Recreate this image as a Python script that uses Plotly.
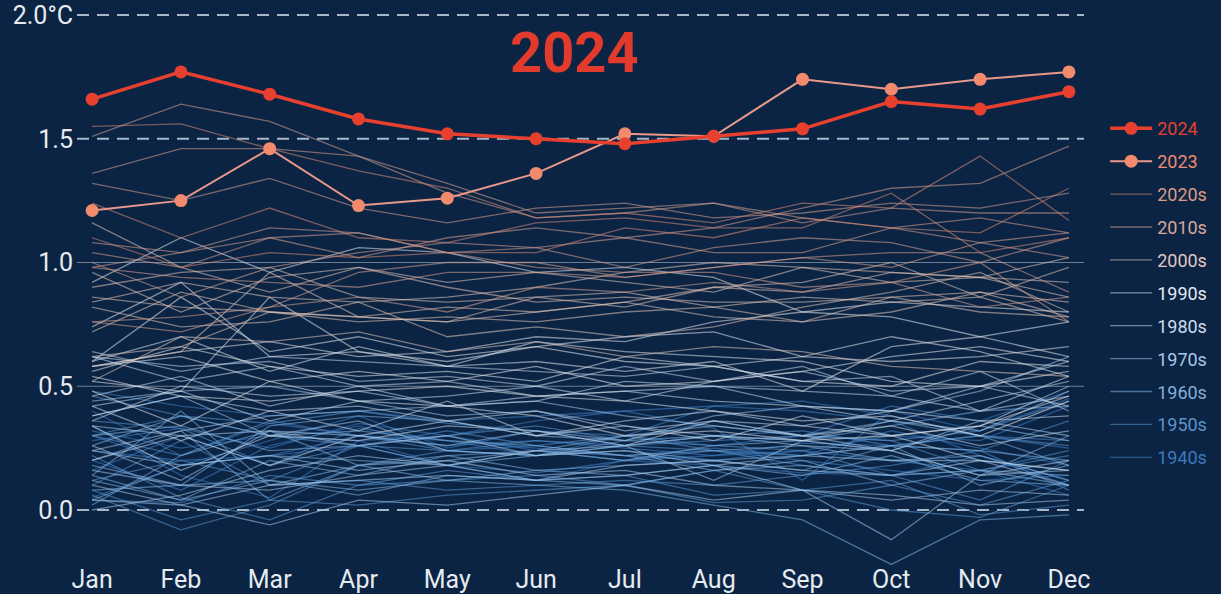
import plotly.graph_objects as go

months = ["Jan", "Feb", "Mar", "Apr", "May", "Jun", "Jul", "Aug", "Sep", "Oct", "Nov", "Dec"]

y2024 = [1.66, 1.77, 1.68, 1.58, 1.52, 1.50, 1.48, 1.51, 1.54, 1.65, 1.62, 1.69]
y2023 = [1.21, 1.25, 1.46, 1.23, 1.26, 1.36, 1.52, 1.51, 1.74, 1.70, 1.74, 1.77]

d1940s = [
    [0.05, 0.18, 0.22, 0.30, 0.28, 0.25, 0.22, 0.20, 0.24, 0.30, 0.28, 0.42],
    [0.28, 0.33, 0.25, 0.35, 0.30, 0.36, 0.40, 0.33, 0.12, 0.40, 0.32, 0.45],
    [0.40, 0.22, 0.35, 0.30, 0.26, 0.28, 0.25, 0.22, 0.27, 0.26, 0.30, 0.28],
    [0.16, 0.30, 0.18, 0.33, 0.28, 0.22, 0.30, 0.26, 0.30, 0.42, 0.36, 0.48],
    [0.48, 0.42, 0.38, 0.40, 0.36, 0.38, 0.40, 0.42, 0.44, 0.38, 0.30, 0.25],
    [0.30, 0.18, 0.28, 0.38, 0.25, 0.32, 0.30, 0.42, 0.40, 0.36, 0.22, 0.10],
    [0.32, 0.25, 0.30, 0.28, 0.18, 0.12, 0.20, 0.18, 0.15, 0.14, 0.22, 0.12],
    [0.20, 0.08, 0.26, 0.34, 0.24, 0.26, 0.22, 0.25, 0.22, 0.32, 0.25, 0.18],
    [0.34, 0.14, 0.05, 0.28, 0.30, 0.24, 0.20, 0.22, 0.24, 0.20, 0.16, 0.06],
    [0.24, 0.20, 0.22, 0.26, 0.18, 0.15, 0.20, 0.24, 0.20, 0.16, 0.12, 0.14],
]
d1950s = [
    [0.04, 0.03, 0.14, 0.10, 0.16, 0.12, 0.14, 0.06, 0.08, 0.00, -0.03, 0.10],
    [0.06, -0.08, 0.02, 0.18, 0.24, 0.22, 0.26, 0.30, 0.32, 0.26, 0.24, 0.36],
    [0.36, 0.33, 0.18, 0.26, 0.24, 0.22, 0.28, 0.26, 0.24, 0.14, 0.04, 0.20],
    [0.30, 0.38, 0.35, 0.40, 0.35, 0.32, 0.26, 0.28, 0.30, 0.28, 0.16, 0.24],
    [0.10, 0.28, 0.10, 0.12, 0.08, 0.10, 0.12, 0.10, 0.14, 0.18, 0.24, 0.08],
    [0.22, 0.05, -0.04, 0.10, 0.12, 0.14, 0.10, 0.16, 0.08, 0.12, -0.02, 0.02],
    [0.08, -0.04, 0.04, 0.02, 0.06, 0.08, 0.10, 0.03, 0.04, 0.10, 0.02, 0.12],
    [0.12, 0.20, 0.12, 0.26, 0.30, 0.34, 0.28, 0.36, 0.30, 0.28, 0.32, 0.44],
    [0.46, 0.38, 0.30, 0.26, 0.32, 0.26, 0.30, 0.24, 0.22, 0.26, 0.30, 0.26],
    [0.30, 0.22, 0.36, 0.30, 0.24, 0.28, 0.26, 0.24, 0.18, 0.14, 0.16, 0.22],
]
d1960s = [
    [0.20, 0.32, 0.04, 0.18, 0.22, 0.24, 0.20, 0.26, 0.28, 0.24, 0.14, 0.30],
    [0.26, 0.38, 0.30, 0.32, 0.28, 0.26, 0.22, 0.24, 0.26, 0.20, 0.22, 0.12],
    [0.30, 0.34, 0.24, 0.26, 0.18, 0.22, 0.24, 0.20, 0.22, 0.26, 0.24, 0.20],
    [0.14, 0.40, 0.10, 0.18, 0.20, 0.24, 0.30, 0.34, 0.30, 0.36, 0.30, 0.18],
    [0.18, 0.10, 0.12, 0.08, 0.12, 0.10, 0.08, 0.02, -0.04, -0.22, -0.04, -0.02],
    [0.14, 0.04, 0.12, 0.06, 0.14, 0.12, 0.10, 0.16, 0.18, 0.14, 0.16, 0.10],
    [0.04, 0.18, 0.22, 0.20, 0.18, 0.24, 0.22, 0.16, 0.20, 0.10, 0.16, 0.14],
    [0.12, 0.04, 0.20, 0.14, 0.22, 0.16, 0.18, 0.20, 0.16, 0.26, 0.10, 0.18],
    [0.02, 0.22, 0.32, 0.18, 0.12, 0.16, 0.14, 0.18, 0.14, 0.22, 0.12, 0.10],
    [0.08, 0.10, 0.34, 0.38, 0.36, 0.30, 0.28, 0.30, 0.28, 0.34, 0.40, 0.42],
]
d1970s = [
    [0.38, 0.46, 0.30, 0.36, 0.24, 0.22, 0.24, 0.18, 0.22, 0.20, 0.20, 0.10],
    [0.16, 0.10, 0.08, 0.14, 0.18, 0.12, 0.18, 0.20, 0.16, 0.14, 0.20, 0.16],
    [0.00, 0.06, 0.16, 0.22, 0.18, 0.24, 0.26, 0.30, 0.28, 0.36, 0.32, 0.48],
    [0.44, 0.48, 0.50, 0.44, 0.38, 0.40, 0.34, 0.30, 0.26, 0.24, 0.14, 0.16],
    [0.04, 0.02, 0.10, 0.12, 0.14, 0.12, 0.14, 0.18, 0.08, 0.04, 0.08, 0.06],
    [0.24, 0.18, 0.22, 0.16, 0.20, 0.14, 0.16, 0.10, 0.08, 0.06, 0.02, 0.04],
    [0.10, 0.02, -0.06, 0.04, 0.02, 0.06, 0.10, 0.04, 0.08, -0.12, 0.14, 0.20],
    [0.24, 0.32, 0.38, 0.40, 0.42, 0.44, 0.38, 0.34, 0.30, 0.24, 0.36, 0.30],
    [0.34, 0.30, 0.32, 0.26, 0.30, 0.22, 0.26, 0.12, 0.28, 0.24, 0.34, 0.28],
    [0.26, 0.12, 0.32, 0.30, 0.26, 0.32, 0.28, 0.38, 0.42, 0.40, 0.48, 0.62],
]
d1980s = [
    [0.46, 0.54, 0.42, 0.50, 0.52, 0.46, 0.48, 0.44, 0.42, 0.40, 0.50, 0.42],
    [0.62, 0.52, 0.58, 0.50, 0.42, 0.46, 0.48, 0.50, 0.42, 0.36, 0.44, 0.52],
    [0.20, 0.30, 0.18, 0.30, 0.36, 0.30, 0.34, 0.28, 0.38, 0.30, 0.34, 0.50],
    [0.62, 0.58, 0.60, 0.52, 0.54, 0.50, 0.44, 0.52, 0.58, 0.46, 0.56, 0.40],
    [0.42, 0.28, 0.40, 0.32, 0.44, 0.30, 0.36, 0.40, 0.34, 0.30, 0.20, 0.16],
    [0.34, 0.16, 0.30, 0.28, 0.34, 0.32, 0.26, 0.36, 0.30, 0.34, 0.26, 0.32],
    [0.38, 0.46, 0.40, 0.42, 0.36, 0.40, 0.32, 0.36, 0.34, 0.40, 0.36, 0.38],
    [0.42, 0.48, 0.36, 0.44, 0.46, 0.50, 0.58, 0.52, 0.56, 0.48, 0.50, 0.60],
    [0.64, 0.56, 0.62, 0.60, 0.58, 0.56, 0.54, 0.58, 0.52, 0.54, 0.40, 0.46],
    [0.36, 0.50, 0.46, 0.48, 0.42, 0.44, 0.52, 0.50, 0.48, 0.46, 0.40, 0.54],
]
d1990s = [
    [0.52, 0.48, 0.86, 0.64, 0.58, 0.60, 0.56, 0.60, 0.48, 0.66, 0.70, 0.62],
    [0.60, 0.70, 0.56, 0.66, 0.58, 0.68, 0.64, 0.62, 0.60, 0.52, 0.50, 0.56],
    [0.58, 0.62, 0.52, 0.44, 0.42, 0.38, 0.30, 0.32, 0.28, 0.30, 0.34, 0.46],
    [0.54, 0.46, 0.44, 0.48, 0.50, 0.46, 0.44, 0.40, 0.36, 0.38, 0.30, 0.44],
    [0.48, 0.34, 0.52, 0.56, 0.52, 0.58, 0.50, 0.52, 0.56, 0.62, 0.66, 0.60],
    [0.74, 0.92, 0.62, 0.64, 0.60, 0.66, 0.70, 0.72, 0.62, 0.70, 0.64, 0.54],
    [0.56, 0.66, 0.58, 0.54, 0.56, 0.52, 0.62, 0.58, 0.52, 0.50, 0.60, 0.58],
    [0.58, 0.64, 0.68, 0.62, 0.64, 0.70, 0.68, 0.76, 0.80, 0.84, 0.82, 0.80],
    [0.92, 1.10, 0.96, 1.06, 1.04, 0.96, 0.98, 0.94, 0.80, 0.78, 0.70, 0.76],
    [0.60, 0.86, 0.64, 0.70, 0.62, 0.66, 0.60, 0.58, 0.62, 0.60, 0.62, 0.66],
]
d2000s = [
    [0.52, 0.70, 0.68, 0.72, 0.64, 0.68, 0.62, 0.66, 0.64, 0.58, 0.56, 0.54],
    [0.62, 0.66, 0.80, 0.76, 0.78, 0.76, 0.80, 0.82, 0.76, 0.80, 0.88, 0.84],
    [0.90, 0.96, 0.98, 0.86, 0.84, 0.86, 0.88, 0.82, 0.86, 0.84, 0.86, 0.76],
    [0.86, 0.82, 0.80, 0.78, 0.82, 0.80, 0.84, 0.90, 0.92, 1.00, 0.86, 0.98],
    [0.84, 0.92, 0.86, 0.84, 0.70, 0.74, 0.70, 0.74, 0.82, 0.88, 0.96, 0.80],
    [0.96, 0.80, 0.94, 0.98, 0.92, 0.96, 0.92, 0.88, 0.98, 0.96, 0.94, 0.86],
    [0.72, 0.88, 0.80, 0.78, 0.76, 0.86, 0.82, 0.90, 0.88, 0.96, 0.94, 1.02],
    [1.16, 0.98, 0.88, 0.98, 0.90, 0.84, 0.86, 0.84, 0.84, 0.86, 0.80, 0.78],
    [0.58, 0.64, 0.96, 0.78, 0.76, 0.80, 0.84, 0.78, 0.76, 0.86, 0.88, 0.78],
    [0.82, 0.74, 0.76, 0.84, 0.86, 0.90, 0.96, 1.00, 0.98, 0.92, 0.94, 0.92],
]
d2010s = [
    [0.98, 1.04, 1.14, 1.12, 1.04, 0.98, 0.96, 0.96, 0.90, 0.92, 1.00, 0.76],
    [0.76, 0.72, 0.82, 0.86, 0.80, 0.90, 0.88, 0.92, 0.88, 0.92, 0.82, 0.86],
    [0.76, 0.78, 0.82, 0.96, 1.00, 1.00, 0.94, 0.98, 1.02, 1.04, 1.04, 0.88],
    [0.98, 0.94, 0.92, 0.90, 0.96, 0.96, 0.94, 0.98, 1.02, 0.98, 1.08, 1.02],
    [1.00, 0.86, 0.98, 1.04, 1.08, 1.06, 0.98, 1.06, 1.10, 1.08, 1.00, 1.10],
    [1.08, 1.04, 1.10, 1.02, 1.10, 1.14, 1.10, 1.14, 1.22, 1.30, 1.32, 1.47],
    [1.51, 1.64, 1.57, 1.43, 1.28, 1.18, 1.20, 1.24, 1.18, 1.14, 1.18, 1.12],
    [1.36, 1.46, 1.46, 1.43, 1.32, 1.20, 1.22, 1.24, 1.16, 1.22, 1.20, 1.20],
    [1.04, 0.98, 1.10, 1.12, 1.04, 1.06, 1.10, 1.04, 1.04, 1.14, 1.08, 1.12],
    [1.32, 1.25, 1.34, 1.22, 1.16, 1.22, 1.24, 1.18, 1.20, 1.24, 1.22, 1.28],
]
d2020s = [
    [1.55, 1.56, 1.46, 1.37, 1.30, 1.18, 1.20, 1.16, 1.24, 1.22, 1.43, 1.17],
    [1.10, 0.98, 1.04, 1.02, 1.04, 1.04, 1.14, 1.10, 1.18, 1.14, 1.12, 1.30],
    [1.24, 1.10, 1.22, 1.10, 1.08, 1.16, 1.18, 1.14, 1.14, 1.28, 1.04, 1.10],
]

decades = ["1940s", "1950s", "1960s", "1970s", "1980s", "1990s", "2000s", "2010s", "2020s"]
decade_data = [d1940s, d1950s, d1960s, d1970s, d1980s, d1990s, d2000s, d2010s, d2020s]
line_colors = ["#3f7fc4", "#5b95cf", "#7fb0dd", "#a3c6e8", "#c5d9ee", "#e2e6ec",
               "#e2c4b6", "#d6a090", "#d88a76"]
text_colors = ["#3e79ba", "#5c93c9", "#86aed6", "#a9c7e5", "#cddcec", "#e4e9f0",
               "#e3c8c0", "#d9a79a", "#dc9a86"]

BG = "#0b2444"
FONT = "Roboto"

fig = go.Figure()

for i, (dec, rows) in enumerate(zip(decades, decade_data)):
    for j, row in enumerate(rows):
        fig.add_trace(go.Scatter(
            x=list(range(12)), y=row, mode="lines",
            line=dict(color=line_colors[i], width=1.3),
            opacity=0.55,
            name=f"<span style='color:{text_colors[i]}'>{dec}</span>",
            legendgroup=dec, showlegend=(j == 0),
            legendrank=100 - i * 5,
            hoverinfo="skip",
        ))

fig.add_trace(go.Scatter(
    x=list(range(12)), y=y2023, mode="lines+markers",
    line=dict(color="#e8998a", width=2),
    marker=dict(color="#f28a6e", size=13),
    name="<span style='color:#f08a70'>2023</span>",
    legendgroup="2023", legendrank=2,
))
fig.add_trace(go.Scatter(
    x=list(range(12)), y=y2024, mode="lines+markers",
    line=dict(color="#e8402f", width=3.5),
    marker=dict(color="#e8402f", size=13),
    name="<span style='color:#e8402f'>2024</span>",
    legendgroup="2024", legendrank=1,
))

# reference lines
for v in [0.0, 1.5, 2.0]:
    fig.add_shape(type="line", xref="paper", yref="y", x0=0, x1=1, y0=v, y1=v,
                  line=dict(color="#a9b6c6", width=2, dash="12px,8px"), layer="below")
for v in [0.5, 1.0]:
    fig.add_shape(type="line", xref="paper", yref="y", x0=0, x1=1, y0=v, y1=v,
                  line=dict(color="rgba(190,200,215,0.55)", width=1.2), layer="below")

fig.add_annotation(text="<b>2024</b>", x=0.494, y=0.9227, xref="paper", yref="paper",
                   xanchor="center", yanchor="middle", showarrow=False,
                   font=dict(family=FONT, size=56, color="#e23a2c"))

fig.update_layout(
    width=1221, height=594,
    margin=dict(l=77, r=136, t=10, b=28),
    paper_bgcolor=BG, plot_bgcolor=BG,
    font=dict(family=FONT, color="#e6ebf0"),
    showlegend=True,
    legend=dict(x=1.02, y=0.82, xanchor="left", yanchor="top",
                font=dict(family=FONT, size=18), tracegroupgap=6.5,
                itemwidth=42,
                traceorder="grouped", bgcolor="rgba(0,0,0,0)"),
    xaxis=dict(range=[-0.17, 11.17], tickvals=list(range(12)), ticktext=months,
               showgrid=False, zeroline=False, showline=False, ticklabelstandoff=-4,
               tickfont=dict(family=FONT, size=25, color="#e6ebf0"), automargin=False),
    yaxis=dict(range=[-0.2263, 2.0202], tickvals=[0, 0.5, 1.0, 1.5, 2.0],
               ticktext=["0.0", "0.5", "1.0", "1.5", "2.0°C"],
               showgrid=False, zeroline=False, showline=False, ticklabelstandoff=3,
               tickfont=dict(family=FONT, size=25, color="#e6ebf0"), automargin=False),
)

fig.write_html("out.html", config={"displayModeBar": False},
               post_script="document.body.style.margin='0';document.body.style.overflow='hidden';")
